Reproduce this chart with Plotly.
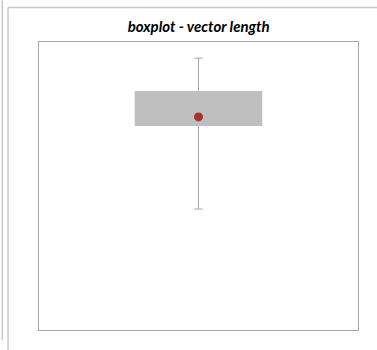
import plotly.graph_objects as go

# ---- data (arbitrary 0..1 scale, axes hidden) ----
category = ["vector length"]
q_min = [0.42]
q1 = [0.708]
q3 = [0.83]
q_max = [0.944]
mean = [0.74]

title_text = "boxplot - vector length"

fig = go.Figure()

# whisker segments (outside the box only)
wx, wy = [], []
for c, lo, a, b, hi in zip(category, q_min, q1, q3, q_max):
    wx += [c, c, None, c, c]
    wy += [hi, b, None, a, lo]
fig.add_trace(go.Scatter(x=wx, y=wy, mode="lines",
                         line=dict(color="#a6a6a6", width=1),
                         hoverinfo="skip", showlegend=False))
# whisker caps
fig.add_trace(go.Scatter(x=category * 2, y=q_min + q_max, mode="markers",
                         marker=dict(symbol="line-ew", size=6,
                                     line=dict(color="#a6a6a6", width=1)),
                         hoverinfo="skip", showlegend=False))

# box q1..q3
fig.add_trace(go.Bar(x=category, y=[b - a for a, b in zip(q1, q3)], base=q1,
                     width=0.4, marker=dict(color="#bfbfbf", line=dict(width=0)),
                     showlegend=False))

# mean
fig.add_trace(go.Scatter(x=category, y=mean, mode="markers",
                         marker=dict(color="#a5302c", size=9),
                         showlegend=False))

# outer frame lines (chart area borders)
frame = "#c8c8c8"
shapes = [
    dict(type="line", xref="paper", yref="paper",
         x0=-0.115, x1=-0.115, y0=-0.035, y1=1.145, line=dict(color=frame, width=1.5)),
    dict(type="line", xref="paper", yref="paper",
         x0=-0.097, x1=-0.097, y0=-0.07, y1=1.12, line=dict(color=frame, width=1.5)),
    dict(type="line", xref="paper", yref="paper",
         x0=-0.097, x1=1.07, y0=1.12, y1=1.12, line=dict(color=frame, width=1.5)),
]

fig.update_layout(
    width=377, height=350,
    margin=dict(l=39, r=19, t=42, b=20),
    paper_bgcolor="white", plot_bgcolor="white",
    title=dict(text="<b><i>" + title_text + "</i></b>", x=0.527, xanchor="center",
               y=0.925, yanchor="middle",
               font=dict(family="Lato, Open Sans, sans-serif", size=15, color="black")),
    xaxis=dict(showticklabels=False, showgrid=False, zeroline=False, ticks="",
               showline=True, mirror=True, linecolor="#a8a8a8", linewidth=1),
    yaxis=dict(range=[0, 1], showticklabels=False, showgrid=False, zeroline=False,
               ticks="", showline=True, mirror=True, linecolor="#a8a8a8", linewidth=1),
    shapes=shapes,
    showlegend=False,
)

# drop the browser's default body margin so the figure sits at 0,0
fig.write_html("out.html", config={"displayModeBar": False},
               post_script="document.body.style.margin='0';")
